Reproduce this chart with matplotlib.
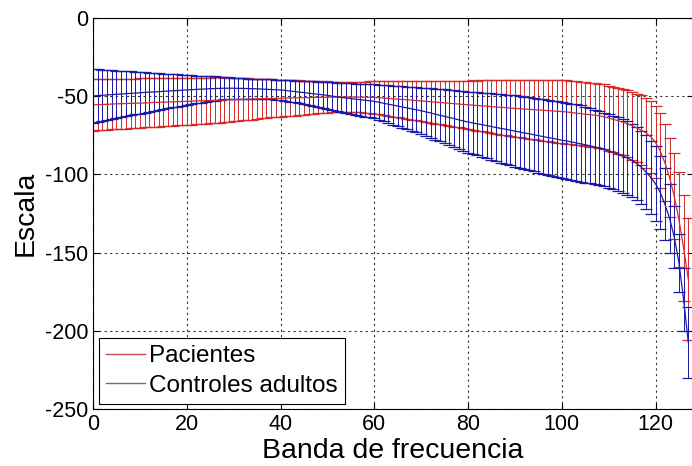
import matplotlib
matplotlib.use('Agg')
import matplotlib.pyplot as plt
from matplotlib.lines import Line2D
import numpy as np

plt.rcParams['font.family'] = ['Liberation Sans', 'DejaVu Sans']
plt.rcParams['axes.unicode_minus'] = False

# banda de frecuencia 0..127
bands = np.arange(128)

pac_mean = [
    -55.5, -55.4, -55.3, -55.2, -55.0, -54.9, -54.8, -54.7, -54.6, -54.5,
    -54.4, -54.3, -54.2, -54.0, -53.9, -53.8, -53.7, -53.6, -53.5, -53.4,
    -53.3, -53.2, -53.0, -52.9, -52.8, -52.7, -52.6, -52.5, -52.4, -52.3,
    -52.2, -52.1, -52.0, -51.9, -51.8, -51.7, -51.6, -51.5, -51.4, -51.4,
    -51.3, -51.2, -51.1, -51.1, -51.0, -50.9, -50.9, -50.8, -50.7, -50.7,
    -50.6, -50.6, -50.5, -50.5, -50.5, -50.5, -50.5, -50.6, -50.6, -50.7,
    -50.8, -51.0, -51.2, -51.4, -51.6, -51.9, -52.1, -52.3, -52.5, -52.8,
    -53.0, -53.3, -53.5, -53.8, -54.0, -54.3, -54.5, -54.8, -55.0, -55.3,
    -55.5, -55.7, -56.0, -56.2, -56.4, -56.7, -56.9, -57.1, -57.3, -57.6,
    -57.8, -58.0, -58.2, -58.4, -58.6, -58.8, -59.0, -59.2, -59.4, -59.6,
    -59.8, -60.1, -60.4, -60.8, -61.1, -61.5, -61.8, -62.1, -62.5, -63.2,
    -64.0, -64.8, -65.7, -66.6, -67.5, -68.8, -70.3, -71.8, -73.5, -76.0,
    -79.5, -85.0, -92.5, -102.0, -114.0, -129.0, -147.0, -167.0]
pac_std = [
    16.5, 16.4, 16.4, 16.3, 16.2, 16.1, 16.1, 16.0, 15.9, 15.8,
    15.8, 15.7, 15.6, 15.5, 15.5, 15.4, 15.3, 15.2, 15.2, 15.1,
    15.0, 14.9, 14.9, 14.8, 14.7, 14.6, 14.6, 14.5, 14.3, 14.1,
    13.9, 13.7, 13.5, 13.3, 13.1, 12.9, 12.6, 12.4, 12.2, 12.0,
    11.8, 11.6, 11.4, 11.3, 11.1, 10.9, 10.7, 10.5, 10.3, 10.2,
    10.0, 9.8, 9.6, 9.5, 9.5, 9.5, 9.6, 9.7, 9.9, 10.1,
    10.3, 10.6, 10.8, 11.1, 11.4, 11.7, 11.9, 12.2, 12.5, 12.7,
    13.0, 13.3, 13.5, 13.8, 14.0, 14.3, 14.5, 14.8, 15.0, 15.3,
    15.5, 15.8, 16.0, 16.3, 16.6, 16.9, 17.1, 17.4, 17.7, 17.9,
    18.2, 18.4, 18.6, 18.8, 19.0, 19.2, 19.4, 19.6, 19.9, 20.1,
    20.3, 20.3, 20.4, 20.4, 20.4, 20.4, 20.5, 20.5, 20.5, 20.7,
    20.8, 21.0, 21.2, 21.3, 21.5, 21.8, 22.0, 22.3, 22.5, 22.8,
    23.0, 24.0, 24.5, 25.5, 27.5, 30.5, 34.0, 39.0]

ctl_mean = [
    -49.8, -49.6, -49.4, -49.2, -49.0, -48.8, -48.6, -48.4, -48.2, -48.0,
    -47.8, -47.6, -47.4, -47.3, -47.1, -46.9, -46.7, -46.5, -46.4, -46.2,
    -46.0, -45.8, -45.7, -45.5, -45.4, -45.2, -45.1, -45.0, -44.9, -44.9,
    -44.9, -45.0, -45.0, -45.1, -45.2, -45.3, -45.4, -45.6, -45.7, -45.9,
    -46.0, -46.3, -46.7, -47.0, -47.4, -47.7, -48.1, -48.4, -48.8, -49.1,
    -49.5, -49.9, -50.4, -50.8, -51.2, -51.5, -51.9, -52.2, -52.6, -52.9,
    -53.3, -53.9, -54.5, -55.1, -55.7, -56.3, -56.9, -57.5, -58.1, -58.7,
    -59.3, -60.0, -60.7, -61.5, -62.2, -62.9, -63.6, -64.3, -65.1, -65.8,
    -66.5, -67.1, -67.7, -68.2, -68.8, -69.4, -70.0, -70.6, -71.1, -71.7,
    -72.3, -72.9, -73.5, -74.0, -74.6, -75.2, -75.8, -76.4, -76.9, -77.5,
    -78.1, -78.6, -79.2, -79.8, -80.4, -81.0, -81.7, -82.4, -83.2, -84.0,
    -85.0, -86.0, -87.0, -88.2, -89.5, -91.0, -93.0, -95.5, -98.5, -102.0,
    -106.0, -111.5, -119.0, -128.0, -140.0, -156.5, -180.0, -207.5]
ctl_std = [
    17.2, 16.8, 16.4, 16.0, 15.6, 15.2, 14.9, 14.5, 14.1, 13.7,
    13.3, 12.9, 12.5, 12.2, 11.8, 11.4, 11.0, 10.6, 10.3, 9.9,
    9.5, 9.2, 8.9, 8.6, 8.3, 8.0, 7.7, 7.4, 7.2, 6.9,
    6.7, 6.6, 6.5, 6.4, 6.3, 6.3, 6.3, 6.4, 6.4, 6.5,
    6.5, 6.7, 6.9, 7.0, 7.2, 7.4, 7.6, 7.8, 8.1, 8.3,
    8.5, 8.8, 9.0, 9.3, 9.5, 9.7, 9.9, 10.2, 10.4, 10.6,
    10.8, 11.2, 11.6, 12.0, 12.4, 12.8, 13.2, 13.6, 14.0, 14.4,
    14.8, 15.3, 15.8, 16.2, 16.7, 17.2, 17.6, 18.1, 18.6, 19.0,
    19.5, 19.8, 20.2, 20.5, 20.8, 21.2, 21.5, 21.8, 22.1, 22.5,
    22.8, 23.0, 23.1, 23.3, 23.4, 23.6, 23.7, 23.9, 24.0, 24.2,
    24.3, 24.4, 24.4, 24.5, 24.5, 24.3, 24.0, 23.8, 23.5, 23.5,
    23.5, 23.5, 23.5, 23.5, 23.5, 23.5, 23.5, 23.5, 23.5, 23.5,
    24.0, 23.5, 23.0, 22.0, 20.0, 18.5, 20.0, 22.5]

labels = ['Pacientes', 'Controles adultos']
red = '#d42a2a'
blue = '#1a1aa8'

fig = plt.figure(figsize=(6.92, 4.66), dpi=100)
ax = fig.add_axes([93 / 692, 57 / 466, 600 / 692, 391 / 466])

ax.errorbar(bands, pac_mean, yerr=pac_std, color=red, ecolor=red,
            elinewidth=0.7, linewidth=0.9, capsize=4.5, capthick=0.9)
ax.errorbar(bands, ctl_mean, yerr=ctl_std, color=blue, ecolor=blue,
            elinewidth=0.7, linewidth=0.9, capsize=4.5, capthick=0.9)

ax.set_xlim(0, 128)
ax.set_ylim(-250, 0)
ax.set_xticks(np.arange(0, 121, 20))
ax.set_yticks(np.arange(-250, 1, 50))
ax.tick_params(direction='in', top=True, right=True, length=4,
               labelsize=15.5, width=0.8)
ax.grid(True, linestyle=(0, (2, 3)), color='#333333', linewidth=0.8)
for s in ax.spines.values():
    s.set_linewidth(0.8)

ax.set_xlabel('Banda de frecuencia', fontsize=20.5, labelpad=2)
ax.set_ylabel('Escala', fontsize=20.5, labelpad=4)

handles = [Line2D([], [], color='#d04848', lw=1.0),
           Line2D([], [], color='#6a6ab0', lw=1.0)]
leg = ax.legend(handles, labels, loc='lower left', bbox_to_anchor=(0.01, 0.013),
                borderaxespad=0, fontsize=17.5, fancybox=False, framealpha=1,
                edgecolor='black', handlelength=1.6, handletextpad=0.15,
                labelspacing=0.3, borderpad=0.3)
leg.get_frame().set_linewidth(0.8)

fig.savefig('out.png', dpi=100)
